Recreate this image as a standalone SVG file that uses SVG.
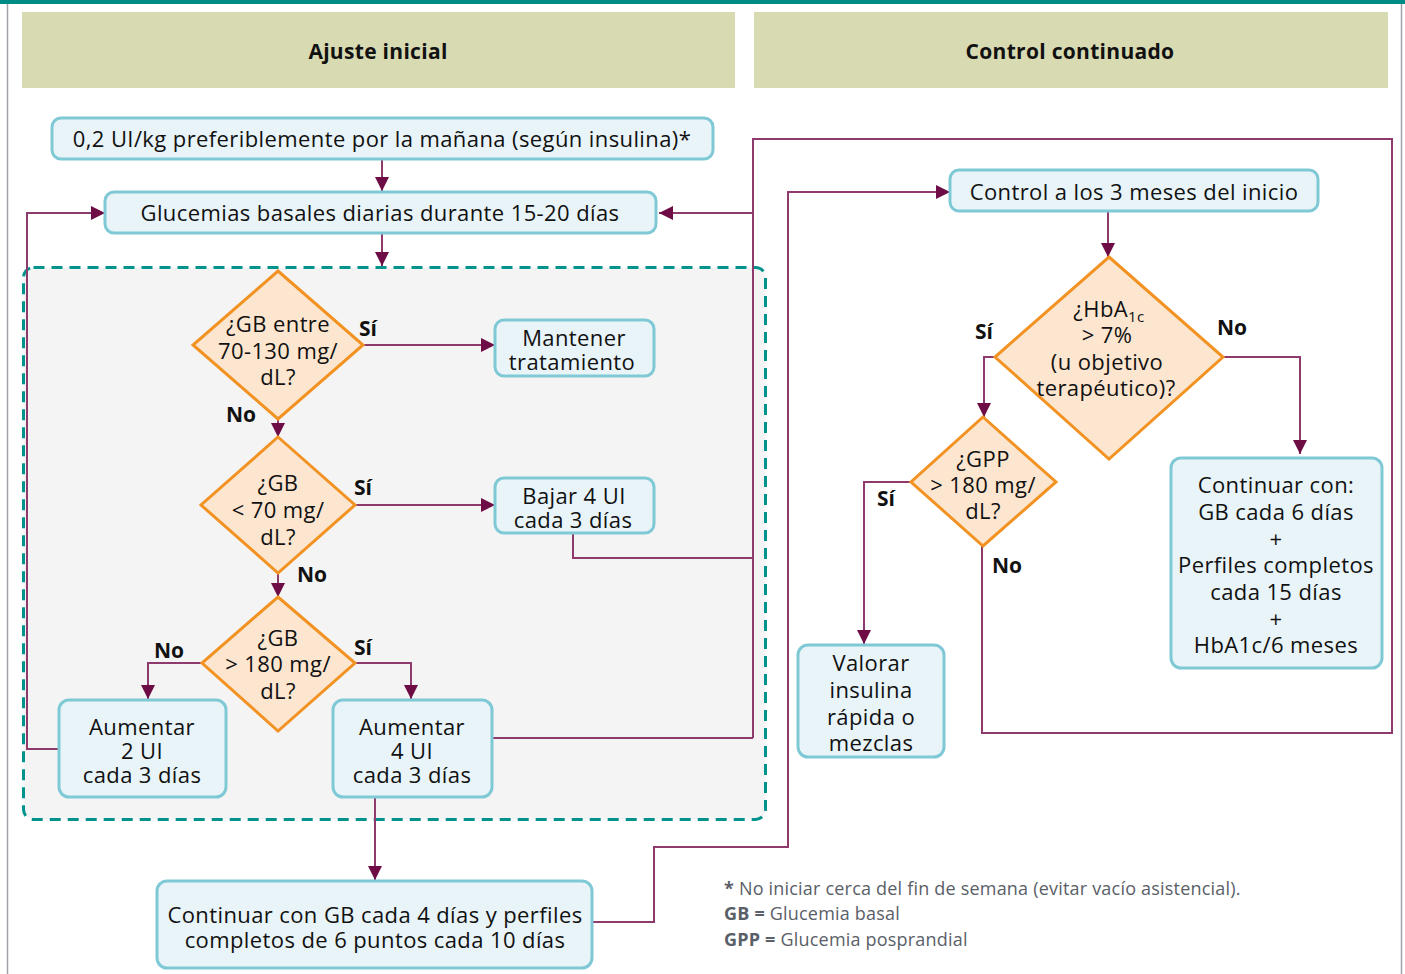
<svg xmlns="http://www.w3.org/2000/svg" width="1405" height="974" viewBox="0 0 1405 974">
<defs>
<style>
.t{font-family:"Open Sans","Noto Sans","Liberation Sans",sans-serif;font-size:22px;letter-spacing:0.4px;fill:#111;text-anchor:middle}
.b{font-family:"Open Sans","Noto Sans","Liberation Sans",sans-serif;font-size:21px;font-weight:bold;fill:#111}
.h{font-family:"Open Sans","Noto Sans","Liberation Sans",sans-serif;font-size:21px;letter-spacing:0.3px;font-weight:bold;fill:#111;text-anchor:middle}
.f{font-family:"Open Sans","Noto Sans","Liberation Sans",sans-serif;font-size:18px;letter-spacing:0.2px;fill:#5a6068}
.box{fill:#e8f4f8;stroke:#7fc9d6;stroke-width:3}
.dia{fill:#fde6d0;stroke:#f29222;stroke-width:3;stroke-linejoin:miter}
.c{fill:none;stroke:#8e3a6c;stroke-width:2}
</style>
<marker id="ah" viewBox="0 0 14 14" markerWidth="14" markerHeight="14" refX="14" refY="7" orient="auto" markerUnits="userSpaceOnUse">
<path d="M0,0 L14,7 L0,14 z" fill="#6e0d45"/>
</marker>
</defs>
<rect x="0" y="0" width="1405" height="974" fill="#ffffff"/>
<rect x="0" y="0" width="1405" height="4" fill="#008b86"/>
<line x1="7.5" y1="4" x2="7.5" y2="974" stroke="#a0a4a8" stroke-width="1.5"/>
<line x1="1401.5" y1="4" x2="1401.5" y2="974" stroke="#a0a4a8" stroke-width="1.5"/>

<g id="header-left"><rect x="22" y="12" width="713" height="76" fill="#d8dab1"/><text class="h" x="378" y="59">Ajuste inicial</text></g>
<g id="header-right"><rect x="754" y="12" width="634" height="76" fill="#d8dab1"/><text class="h" x="1070" y="59">Control continuado</text></g>

<g id="container"><rect x="23.5" y="267.5" width="742" height="552" rx="10" fill="#f4f4f4" stroke="#00928c" stroke-width="3" stroke-dasharray="11,7"/></g>

<g id="connectors">
<path class="c" d="M382,159 V191" marker-end="url(#ah)"/>
<path class="c" d="M382,233 V266" marker-end="url(#ah)"/>
<path class="c" d="M363,345 H495" marker-end="url(#ah)"/>
<path class="c" d="M278,419 V437" marker-end="url(#ah)"/>
<path class="c" d="M355,505 H495" marker-end="url(#ah)"/>
<path class="c" d="M278,573 V597" marker-end="url(#ah)"/>
<path class="c" d="M202,663 H148 V699" marker-end="url(#ah)"/>
<path class="c" d="M355,663 H411 V699" marker-end="url(#ah)"/>
<path class="c" d="M375,797 V880" marker-end="url(#ah)"/>
<path class="c" d="M59,749 H27 V213 H105" marker-end="url(#ah)"/>
<path class="c" d="M573,533 V558 H753"/>
<path class="c" d="M492,738 H753"/>
<path class="c" d="M982,546 V733 H1392 V139 H753 V738"/>
<path class="c" d="M753,213 H659" marker-end="url(#ah)"/>
<path class="c" d="M592,922 H654 V847 H788 V192 H950" marker-end="url(#ah)"/>
<path class="c" d="M1108,211 V257" marker-end="url(#ah)"/>
<path class="c" d="M995,357 H984 V417" marker-end="url(#ah)"/>
<path class="c" d="M1223,357 H1300 V454" marker-end="url(#ah)"/>
<path class="c" d="M911,482 H864 V644" marker-end="url(#ah)"/>
</g>

<g id="n-start"><rect class="box" x="52" y="118" width="661" height="41" rx="9"/><text class="t" x="382" y="147">0,2 UI/kg preferiblemente por la mañana (según insulina)*</text></g>
<g id="n-glucemias"><rect class="box" x="105" y="192" width="551" height="41" rx="9"/><text class="t" x="380" y="221">Glucemias basales diarias durante 15-20 días</text></g>

<g id="d1"><polygon class="dia" points="278,271 363,345 278,419 193,345"/>
<text class="t" x="278" y="332">¿GB entre</text><text class="t" x="278" y="359">70-130 mg/</text><text class="t" x="278" y="385">dL?</text></g>
<g id="n-mantener"><rect class="box" x="495" y="320" width="159" height="56" rx="9"/><text class="t" x="574" y="346">Mantener</text><text class="t" x="572" y="370">tratamiento</text></g>

<g id="d2"><polygon class="dia" points="278,437 355,505 278,573 201,505"/>
<text class="t" x="278" y="491">¿GB</text><text class="t" x="278" y="518">&lt; 70 mg/</text><text class="t" x="278" y="545">dL?</text></g>
<g id="n-bajar"><rect class="box" x="495" y="478" width="159" height="55" rx="9"/><text class="t" x="574" y="504">Bajar 4 UI</text><text class="t" x="573" y="528">cada 3 días</text></g>

<g id="d3"><polygon class="dia" points="278,597 355,663 278,731 202,663"/>
<text class="t" x="278" y="646">¿GB</text><text class="t" x="278" y="672">&gt; 180 mg/</text><text class="t" x="278" y="699">dL?</text></g>
<g id="n-aum2"><rect class="box" x="59" y="700" width="167" height="97" rx="10"/><text class="t" x="142" y="735">Aumentar</text><text class="t" x="142" y="759">2 UI</text><text class="t" x="142" y="783">cada 3 días</text></g>
<g id="n-aum4"><rect class="box" x="333" y="700" width="159" height="97" rx="10"/><text class="t" x="412" y="735">Aumentar</text><text class="t" x="412" y="759">4 UI</text><text class="t" x="412" y="783">cada 3 días</text></g>

<g id="n-continuar"><rect class="box" x="157" y="881" width="435" height="87" rx="10"/><text class="t" x="375" y="923">Continuar con GB cada 4 días y perfiles</text><text class="t" x="375" y="948">completos de 6 puntos cada 10 días</text></g>

<g id="n-control"><rect class="box" x="950" y="170" width="368" height="41" rx="9"/><text class="t" x="1134" y="200">Control a los 3 meses del inicio</text></g>

<g id="d4"><polygon class="dia" points="1109,257 1223,357 1109,459 995,357"/>
<text class="t" x="1109" y="317">¿HbA<tspan font-size="15" dy="5">1c</tspan></text><text class="t" x="1107" y="343">&gt; 7%</text><text class="t" x="1107" y="370">(u objetivo</text><text class="t" x="1106" y="396">terapéutico)?</text></g>

<g id="n-cont2"><rect class="box" x="1171" y="458" width="211" height="210" rx="10"/>
<text class="t" x="1276" y="493">Continuar con:</text><text class="t" x="1276" y="520">GB cada 6 días</text><text class="t" x="1276" y="547">+</text><text class="t" x="1276" y="573">Perfiles completos</text><text class="t" x="1276" y="600">cada 15 días</text><text class="t" x="1276" y="627">+</text><text class="t" x="1276" y="653">HbA1c/6 meses</text></g>

<g id="d5"><polygon class="dia" points="983,417 1056,482 983,546 911,482"/>
<text class="t" x="983" y="467">¿GPP</text><text class="t" x="983" y="493">&gt; 180 mg/</text><text class="t" x="983" y="519">dL?</text></g>

<g id="n-valorar"><rect class="box" x="798" y="645" width="146" height="112" rx="10"/>
<text class="t" x="871" y="671">Valorar</text><text class="t" x="871" y="698">insulina</text><text class="t" x="871" y="725">rápida o</text><text class="t" x="871" y="751">mezclas</text></g>

<g id="labels">
<text class="b" x="359" y="336">Sí</text>
<text class="b" x="226" y="422">No</text>
<text class="b" x="354" y="495">Sí</text>
<text class="b" x="297" y="582">No</text>
<text class="b" x="154" y="658">No</text>
<text class="b" x="354" y="655">Sí</text>
<text class="b" x="975" y="339">Sí</text>
<text class="b" x="1217" y="335">No</text>
<text class="b" x="877" y="506">Sí</text>
<text class="b" x="992" y="573">No</text>
</g>

<g id="footnotes">
<text class="f" x="724" y="895"><tspan font-weight="bold">*</tspan> No iniciar cerca del fin de semana (evitar vacío asistencial).</text>
<text class="f" x="724" y="920"><tspan font-weight="bold">GB =</tspan> Glucemia basal</text>
<text class="f" x="724" y="946"><tspan font-weight="bold">GPP =</tspan> Glucemia posprandial</text>
</g>
</svg>
